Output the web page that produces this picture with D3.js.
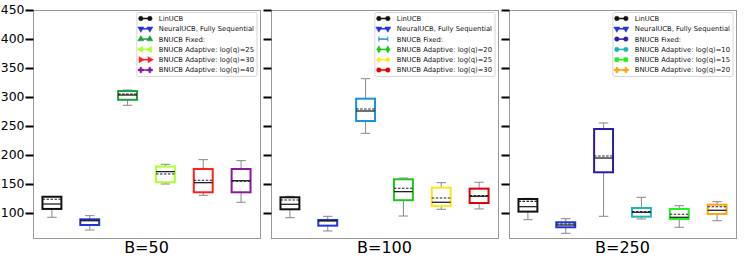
<!DOCTYPE html>
<html>
<head>
<meta charset="utf-8">
<script src="https://cdn.jsdelivr.net/npm/d3@7"></script>
<style>
  body { margin: 0; background: #fff; }
  svg { display: block; font-family: 'DejaVu Sans', sans-serif; }
</style>
</head>
<body>
<svg id="chart" width="748" height="259"></svg>
<script>
// panel titles (budget B)
const budgets = ['B=50', 'B=100', 'B=250']

// series names per panel
const labelsB50 = ['LinUCB', 'NeuralUCB, Fully Sequential', 'BNUCB Fixed:', 'BNUCB Adaptive: log(q)=25', 'BNUCB Adaptive: log(q)=30', 'BNUCB Adaptive: log(q)=40']
const labelsB100 = ['LinUCB', 'NeuralUCB, Fully Sequential', 'BNUCB Fixed:', 'BNUCB Adaptive: log(q)=20', 'BNUCB Adaptive: log(q)=25', 'BNUCB Adaptive: log(q)=30']
const labelsB250 = ['LinUCB', 'NeuralUCB, Fully Sequential', 'BNUCB Fixed:', 'BNUCB Adaptive: log(q)=10', 'BNUCB Adaptive: log(q)=15', 'BNUCB Adaptive: log(q)=20']

const colorsB50 = ['#111111', '#2233dd', '#1f9e3f', '#adff2f', '#ff1f1f', '#8a1a9a']
const colorsB100 = ['#111111', '#2233dd', '#1c8fdc', '#22c422', '#ffe51a', '#e00000']
const colorsB250 = ['#111111', '#2233dd', '#2a1cae', '#1fb5b5', '#22ee22', '#ffa214']

const markersB50 = ['circle', 'tridown', 'triup', 'trileft', 'triright', 'plus']
const markersB100 = ['circle', 'tridown', 'vline', 'diamond', 'thin', 'circle']
const markersB250 = ['circle', 'tridown', 'circle', 'circle', 'square', 'plus']

// box stats: [whiskerLow, q1, median, q3, whiskerHigh, mean]
const statsB50 = [
  [92.6, 107, 115.5, 128, 128.5, 123.6],
  [70.7, 79.3, 86.7, 89.1, 95.4, 87.8],
  [285.7, 295.2, 303.4, 310.3, 312, 305],
  [150, 153, 171.3, 180, 184, 167.2],
  [130.5, 135.7, 152.3, 175.9, 192, 156.4],
  [118.5, 135.7, 155.7, 175.9, 190.3, 155]
]
const statsB100 = [
  [91.9, 106.4, 115, 127.1, 128.8, 122.4],
  [69, 78.2, 86.2, 88, 94.3, 87.2],
  [237.4, 258.6, 275.9, 297.1, 331.6, 279.3],
  [94.8, 122, 136.8, 158.1, 160.3, 142.6],
  [106.4, 112.1, 118.5, 143.7, 152.3, 125.9],
  [107, 117.2, 128.8, 142, 153, 129.9]
]
const statsB250 = [
  [88.5, 102.4, 110.9, 124.1, 125.3, 120],
  [65, 75.4, 79.3, 84, 90.2, 81],
  [94.3, 170.2, 194.8, 244.8, 255.2, 198.3],
  [89.7, 93.7, 101.2, 108.6, 127.1, 102.5],
  [75.4, 89.7, 92.6, 107, 112.6, 97.8],
  [86.7, 98.3, 104.7, 114.3, 119.5, 110.9]
]

const yTicks = [100, 150, 200, 250, 300, 350, 400, 450]

const panels = [
  { title: budgets[0], labels: labelsB50, colors: colorsB50, markers: markersB50, stats: statsB50 },
  { title: budgets[1], labels: labelsB100, colors: colorsB100, markers: markersB100, stats: statsB100 },
  { title: budgets[2], labels: labelsB250, colors: colorsB250, markers: markersB250, stats: statsB250 }
]

const svg = d3.select('#chart')
const plotTop = 10
const plotBottom = 238
const panelW = 227
const panelX = [33, 271, 509]

const y = d3.scaleLinear().domain([56.9, 450]).range([plotBottom, plotTop])

panels.forEach((p, pi) => drawPanel(p, panelX[pi], pi === 0))

function drawPanel (p, x0, showLabels) {
  const g = svg.append('g')
  const x = d3.scaleBand().domain(p.labels).range([x0, x0 + panelW])
  const bw = x.bandwidth() * 0.5

  // frame
  g.append('rect')
    .attr('x', x0 + 0.5).attr('y', plotTop + 0.5)
    .attr('width', panelW).attr('height', plotBottom - plotTop)
    .attr('fill', 'none').attr('stroke', '#999').attr('stroke-width', 1)

  const axis = g.append('g')
    .attr('transform', `translate(${x0 + 0.5},0)`)
    .call(d3.axisLeft(y).tickValues(yTicks).tickSize(8).tickPadding(1)
      .tickFormat(showLabels ? d3.format('d') : () => ''))
  axis.select('.domain').remove()
  axis.selectAll('.tick line').attr('stroke', '#000').attr('stroke-width', 2)
  axis.selectAll('.tick text').attr('font-size', 12.4).attr('fill', '#000')
    .attr('font-family', "'DejaVu Sans', sans-serif")

  // boxes
  const boxes = g.selectAll('.box').data(p.stats).enter().append('g')
    .attr('class', 'box')
    .attr('transform', (d, i) => `translate(${x(p.labels[i]) + x.bandwidth() / 2},0)`)

  boxes.append('line')
    .attr('x1', 0).attr('x2', 0)
    .attr('y1', d => y(d[0])).attr('y2', d => y(d[1]))
    .attr('stroke', '#888').attr('stroke-width', 1)
  boxes.append('line')
    .attr('x1', 0).attr('x2', 0)
    .attr('y1', d => y(d[3])).attr('y2', d => y(d[4]))
    .attr('stroke', '#888').attr('stroke-width', 1)
  boxes.selectAll('.cap').data(d => [d[0], d[4]]).enter().append('line')
    .attr('x1', -bw / 4).attr('x2', bw / 4)
    .attr('y1', d => y(d)).attr('y2', d => y(d))
    .attr('stroke', '#888').attr('stroke-width', 1)

  boxes.append('rect')
    .attr('x', -bw / 2)
    .attr('y', d => y(d[3]))
    .attr('width', bw)
    .attr('height', d => y(d[1]) - y(d[3]))
    .attr('fill', 'none')
    .attr('stroke', (d, i) => p.colors[i])
    .attr('stroke-width', 2)

  boxes.append('line')
    .attr('x1', -bw / 2).attr('x2', bw / 2)
    .attr('y1', d => y(d[2])).attr('y2', d => y(d[2]))
    .attr('stroke', '#222').attr('stroke-width', 1.3)
  boxes.append('line')
    .attr('x1', -bw / 2).attr('x2', bw / 2)
    .attr('y1', d => y(d[5])).attr('y2', d => y(d[5]))
    .attr('stroke', '#222').attr('stroke-width', 1.1)
    .attr('stroke-dasharray', '2.5,1.5')

  // title under panel
  g.append('text')
    .attr('x', x0 + panelW / 2).attr('y', 253)
    .attr('text-anchor', 'middle')
    .attr('font-size', 16)
    .text(p.title)

  drawLegend(g, p, x0 + panelW)
}

function drawLegend (g, p, right) {
  const lg = g.append('g')
  const rowY = d3.scalePoint().domain(d3.range(p.labels.length)).range([18.5, 70])
  const box = lg.append('rect')
  const texts = lg.selectAll('text').data(p.labels).enter().append('text')
    .attr('y', (d, i) => rowY(i) + 2.4)
    .attr('font-size', 6.8)
    .attr('fill', '#111')
    .text(d => d)
  const maxW = d3.max(texts.nodes(), n => n.getComputedTextLength())
  const w = maxW + 25
  const bx = right - 3 - w
  texts.attr('x', bx + 22)
  box.attr('x', bx).attr('y', 12.5).attr('width', w).attr('height', 64)
    .attr('rx', 2).attr('fill', '#fff').attr('stroke', '#ccc').attr('stroke-width', 0.8)

  p.labels.forEach((l, i) => {
    const cy = rowY(i)
    const c = p.colors[i]
    lg.append('line').attr('x1', bx + 4).attr('x2', bx + 13)
      .attr('y1', cy).attr('y2', cy).attr('stroke', c).attr('stroke-width', 1.5)
    ;[bx + 4, bx + 13].forEach(mx => drawMarker(lg, p.markers[i], mx, cy, c))
  })
}

function drawMarker (g, kind, mx, my, c) {
  const types = {
    circle: [d3.symbolCircle, 0],
    tridown: [d3.symbolTriangle, 180],
    triup: [d3.symbolTriangle, 0],
    trileft: [d3.symbolTriangle, -90],
    triright: [d3.symbolTriangle, 90],
    plus: [d3.symbolCross, 0],
    diamond: [d3.symbolDiamond, 0],
    square: [d3.symbolSquare, 0],
    thin: [d3.symbolDiamond2, 0]
  }
  if (kind === 'vline') {
    g.append('line').attr('x1', mx).attr('x2', mx).attr('y1', my - 2.5).attr('y2', my + 2.5)
      .attr('stroke', c).attr('stroke-width', 1)
    return
  }
  const t = types[kind]
  g.append('path')
    .attr('d', d3.symbol(t[0], 16)())
    .attr('transform', `translate(${mx},${my}) rotate(${t[1]})`)
    .attr('fill', c)
    .attr('stroke', c).attr('stroke-width', 0.5)
}
</script>
</body>
</html>
